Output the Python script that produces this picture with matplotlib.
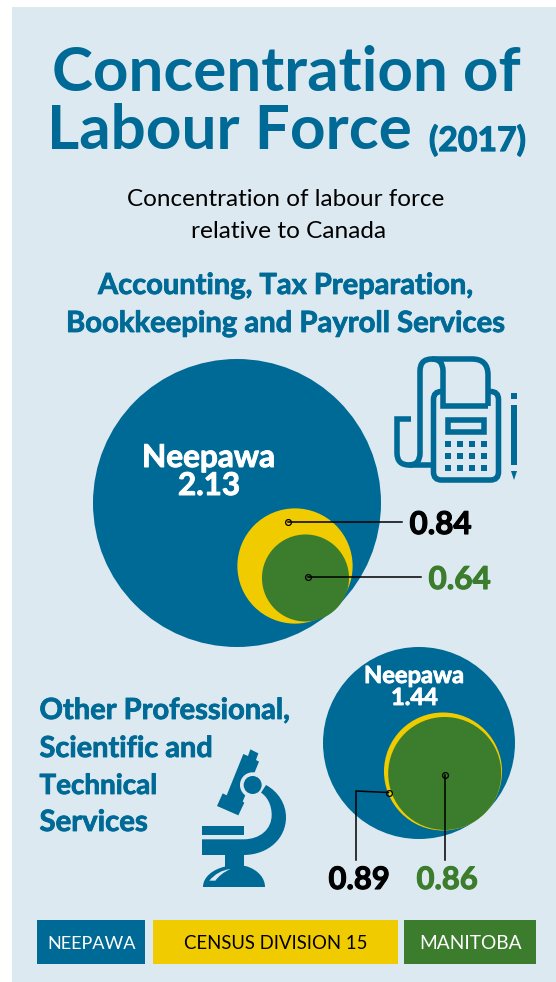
import matplotlib
matplotlib.use("Agg")
import matplotlib.pyplot as plt
import matplotlib.patheffects as pe
from matplotlib.patches import Circle, Rectangle, Polygon, FancyBboxPatch, PathPatch
from matplotlib.path import Path

plt.rcParams['font.family'] = ['Lato', 'DejaVu Sans']

# ---- data ----
series_names = ["Neepawa", "Census Division 15", "Manitoba"]
accounting_values = [2.13, 0.84, 0.64]
professional_values = [1.44, 0.89, 0.86]
legend_labels = ["NEEPAWA", "CENSUS DIVISION 15", "MANITOBA"]

BLUE, YELLOW, GREEN, BG = "#006a96", "#f0cb00", "#3b7d2d", "#dde9f1"
colors = [BLUE, YELLOW, GREEN]

fig = plt.figure(figsize=(5.56, 9.82), dpi=100, facecolor="white")
ax = fig.add_axes([0, 0, 1, 1])
ax.set_xlim(0, 556)
ax.set_ylim(982, 0)
ax.axis("off")
rend = fig.canvas.get_renderer()


def fit(s, x0, x1, base, color, weight="bold", heavy=0.0):
    """Place text on a pixel baseline, sized to span x0..x1; heavy thickens the strokes."""
    t = ax.text(x0, base, s, color=color, fontweight=weight, fontsize=20,
                ha="left", va="baseline")
    w = t.get_window_extent(rend).width
    t.set_fontsize(20 * (x1 - x0) / w)
    if heavy:
        t.set_path_effects([pe.withStroke(linewidth=heavy, foreground=color)])
    return t


ax.add_patch(Rectangle((12, 7), 544, 975, fc=BG, ec="none"))

# ---- headings ----
fit("Concentration of", 52, 520, 91, BLUE)
fit("Labour Force", 47, 411, 149, BLUE)
fit("(2017)", 429, 526, 151, BLUE, heavy=0.9)
fit("Concentration of labour force", 127, 444, 206, "black", "normal")
fit("relative to Canada", 191, 386, 238, "black", "normal")
fit("Accounting, Tax Preparation,", 98, 473, 294, BLUE, heavy=0.6)
fit("Bookkeeping and Payroll Services", 66, 505, 332, BLUE, heavy=0.6)
for s, x1, b in [("Other Professional,", 290, 719), ("Scientific and", 213, 757),
                 ("Technical", 157, 794), ("Services", 148, 831)]:
    fit(s, 39.5, x1, b, BLUE, heavy=0.6)

# ---- circles: radius is linear in the value ----
scales_a = [144 / accounting_values[0]] + [68.6, 68.0]
scales_b = [96 / professional_values[0]] + [66.3, 65.7]
for v, k, c, xy in zip(accounting_values, scales_a, colors, [(237, 503), (295, 566), (305.5, 578)]):
    ax.add_patch(Circle(xy, v * k, fc=c, ec="none"))
for v, k, c, xy in zip(professional_values, scales_b, colors, [(419, 743), (443, 771.5), (444.7, 773.5)]):
    ax.add_patch(Circle(xy, v * k, fc=c, ec="none"))

fit("Neepawa", 142, 275, 467, "white", heavy=0.7)
fit(f"{accounting_values[0]:.2f}", 178, 240, 495, "white", heavy=0.7)
fit("Neepawa", 364, 464, 683, "white", heavy=0.6)
fit(f"{professional_values[0]:.2f}", 391, 438, 705, "white", heavy=0.6)


# ---- leaders ----
def leader(pts):
    xs, ys = zip(*pts)
    ax.plot(xs, ys, color="black", lw=1.1, solid_joinstyle="miter", zorder=4)
    ax.plot(xs[0], ys[0], "o", ms=4.2, mfc="none", mec="black", mew=0.9, zorder=5)


leader([(288, 522), (402, 522)])
leader([(308, 577), (421, 577)])
leader([(388.5, 792.5), (356, 791), (356, 860)])
leader([(444.5, 775), (444.5, 860)])
fit(f"{accounting_values[1]:.2f}", 409.5, 472, 534, "black", heavy=0.8)
fit(f"{accounting_values[2]:.2f}", 428.5, 491, 589, GREEN, heavy=0.8)
fit(f"{professional_values[1]:.2f}", 328.5, 390, 889, "black", heavy=0.8)
fit(f"{professional_values[2]:.2f}", 416.5, 478, 889, GREEN, heavy=0.8)

# ---- legend ----
for lab, c, (x0, x1), (t0, t1), tc in zip(
        legend_labels, colors, [(37, 145), (153, 398), (404, 536)],
        [(47, 136), (184, 367), (419, 521)], ["white", "black", "white"]):
    ax.add_patch(Rectangle((x0, 920), x1 - x0, 44, fc=c, ec="none"))
    fit(lab, t0, t1, 949, tc, "normal")

# ---- fax icon ----
LW = 4.0
M, L, C = Path.MOVETO, Path.LINETO, Path.CURVE3


def stroke(verts, codes):
    ax.add_patch(PathPatch(Path(verts, codes), fc="none", ec=BLUE, lw=LW,
                           capstyle="butt", joinstyle="miter"))


ax.add_patch(FancyBboxPatch((433.5, 391.5), 65, 88.5,
                            boxstyle="round,pad=0,rounding_size=8",
                            fc="none", ec=BLUE, lw=LW))
ax.add_patch(Polygon([(441, 385), (490, 385), (490, 408), (441, 408)], fc=BG, ec="none"))
stroke([(488, 406), (488, 375), (488, 359), (472, 359), (432, 359), (420, 359), (420, 371),
        (420, 453), (420, 465), (409, 465), (397, 465), (397, 453), (397, 419), (411, 419)],
       [M, L, C, C, L, C, C, L, C, C, C, C, L, L])
stroke([(432, 359), (443, 359), (443, 371), (443, 406), (488, 406)], [M, C, C, L, L])
stroke([(409, 465), (433, 465)], [M, L])
ax.add_patch(Rectangle((448, 420), 36.3, 12.3, fc="none", ec=BLUE, lw=LW))
for kx in (445, 457, 469, 481):
    for ky in (441, 453, 465):
        ax.add_patch(Rectangle((kx, ky), 6, 6, fc=BLUE, ec="none"))
ax.add_patch(Rectangle((511, 392.7), 6, 6, fc=BLUE, ec="none"))
ax.add_patch(Rectangle((511, 405), 6, 60, fc=BLUE, ec="none"))
ax.add_patch(Polygon([(511, 471), (517, 471), (514, 480)], fc=BLUE, ec="none"))


# ---- microscope icon ----
def mp(pts):
    return [(180 + x / 3, 730 + y / 3) for x, y in pts]


ax.add_patch(Polygon(mp([(211, 58), (235, 70), (228, 90), (237, 95), (188, 215), (193, 218),
                         (175, 256), (111, 228), (128, 190), (140, 196), (190, 72), (204, 78)]),
                     fc=BLUE, ec="none"))
cx, cy = mp([(218, 165)])[0]
ax.add_patch(Circle((cx, cy), 12.7, fc=BG, ec="none"))
ax.add_patch(Circle((cx, cy), 9, fc=BLUE, ec="none"))
C4 = Path.CURVE4
arm = [(258, 165), (295, 185), (318, 222), (318, 262), (318, 325), (265, 375), (190, 375),
       (66, 375), (66, 328), (190, 328), (240, 328), (275, 298), (275, 255),
       (275, 225), (262, 200), (243, 188), (258, 165)]
arm_c = [M, C4, C4, C4, C4, C4, C4, L, L, L, C4, C4, C4, C4, C4, C4, Path.CLOSEPOLY]
ax.add_patch(PathPatch(Path(mp(arm), arm_c), fc=BLUE, ec="none"))
(x0, y0), (x1, y1) = mp([(66, 288), (192, 314)])
ax.add_patch(Rectangle((x0, y0), x1 - x0, y1 - y0, fc=BLUE, ec="none"))
(x0, y0), (x1, y1) = mp([(134, 370), (191, 412)])
ax.add_patch(Rectangle((x0, y0), x1 - x0, y1 - y0, fc=BLUE, ec="none"))
base = [(69, 471), (69, 440), (100, 418), (134, 410), (160, 405), (190, 407), (200, 409),
        (235, 420), (255, 445), (255, 471), (69, 471)]
ax.add_patch(PathPatch(Path(mp(base), [M, C4, C4, C4, L, L, L, C4, C4, C4, Path.CLOSEPOLY]),
                       fc=BLUE, ec="none"))
glint = [(88, 452), (105, 432), (125, 420), (152, 417), (130, 426), (115, 440), (106, 452), (88, 452)]
ax.add_patch(PathPatch(Path(mp(glint), [M, C4, C4, C4, C4, C4, C4, Path.CLOSEPOLY]),
                       fc=BG, ec="none"))

fig.savefig("out.png", dpi=100, facecolor="white")
